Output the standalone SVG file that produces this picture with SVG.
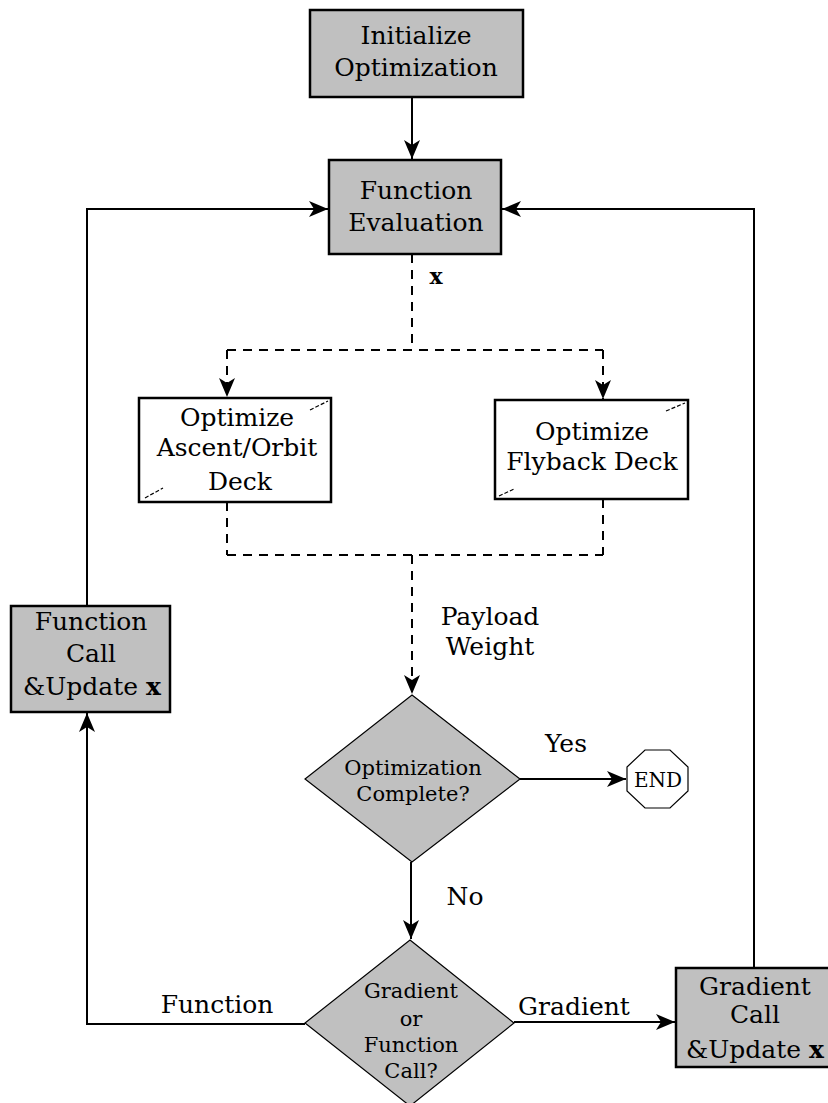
<svg xmlns="http://www.w3.org/2000/svg" width="828" height="1103" viewBox="0 0 828 1103">
<style>
  text { font-family: "DejaVu Serif", "Liberation Serif", serif; fill: #000; text-anchor: middle; }
  .big { font-size: 25px; }
  .mid { font-size: 21px; }
  .box { fill: #c0c0c0; stroke: #000; stroke-width: 2.5; }
  .wbox { fill: #fff; stroke: #000; stroke-width: 2.5; }
  .dia { fill: #c0c0c0; stroke: #000; stroke-width: 1.2; }
  .ln { fill: none; stroke: #000; stroke-width: 2; }
  .dl { fill: none; stroke: #000; stroke-width: 2; stroke-dasharray: 9,7; }
  .tick { fill: none; stroke: #000; stroke-width: 1.2; stroke-dasharray: 4,2; }
  .b { font-weight: bold; }
</style>
<defs>
  <marker id="ah" markerUnits="userSpaceOnUse" markerWidth="22" markerHeight="20" refX="19" refY="10" orient="auto">
    <path d="M0,2 L19,10 L0,18 L5,10 z" fill="#000"/>
  </marker>
</defs>
<rect width="828" height="1103" fill="#fff"/>

<g id="connectors">
  <line class="ln" x1="412" y1="97" x2="412" y2="159" marker-end="url(#ah)"/>
  <polyline class="ln" points="87,606 87,209 328,209" marker-end="url(#ah)"/>
  <polyline class="ln" points="754,968 754,209 502,209" marker-end="url(#ah)"/>
  <line class="dl" x1="412" y1="254" x2="412" y2="350"/>
  <line class="dl" x1="227" y1="350" x2="603" y2="350"/>
  <line class="dl" x1="227" y1="350" x2="227" y2="397" marker-end="url(#ah)"/>
  <line class="dl" x1="603" y1="350" x2="603" y2="399" marker-end="url(#ah)"/>
  <line class="dl" x1="227" y1="502" x2="227" y2="555"/>
  <line class="dl" x1="603" y1="499" x2="603" y2="555"/>
  <line class="dl" x1="227" y1="555" x2="603" y2="555"/>
  <line class="dl" x1="412" y1="555" x2="412" y2="694" marker-end="url(#ah)"/>
  <line class="ln" x1="520" y1="779" x2="626" y2="779" marker-end="url(#ah)"/>
  <line class="ln" x1="411" y1="862" x2="411" y2="939" marker-end="url(#ah)"/>
  <line class="ln" x1="514" y1="1022" x2="675" y2="1022" marker-end="url(#ah)"/>
  <polyline class="ln" points="305,1024 87,1024 87,713" marker-end="url(#ah)"/>
  <text class="b" x="436" y="284" font-size="22">x</text>
  <text class="big" x="490" y="625">Payload</text>
  <text class="big" x="490" y="655">Weight</text>
  <text class="big" x="566" y="752">Yes</text>
  <text class="big" x="465" y="905">No</text>
  <text class="big" x="217" y="1013">Function</text>
  <text class="big" x="574" y="1015">Gradient</text>
</g>

<g id="init">
  <rect class="box" x="310" y="10" width="213" height="87"/>
  <text class="big" x="416" y="44">Initialize</text>
  <text class="big" x="416" y="76">Optimization</text>
</g>

<g id="funceval">
  <rect class="box" x="329" y="160" width="172" height="94"/>
  <text class="big" x="416" y="199">Function</text>
  <text class="big" x="416" y="231">Evaluation</text>
</g>

<g id="ascent">
  <rect class="wbox" x="139" y="398" width="192" height="104"/>
  <text class="big" x="237" y="426">Optimize</text>
  <text class="big" x="237" y="456">Ascent/Orbit</text>
  <text class="big" x="240" y="490">Deck</text>
  <path class="tick" d="M310,410 L328,401"/>
  <path class="tick" d="M145,498 L163,488"/>
</g>

<g id="flyback">
  <rect class="wbox" x="495" y="400" width="193" height="99"/>
  <text class="big" x="592" y="440">Optimize</text>
  <text class="big" x="592" y="470">Flyback Deck</text>
  <path class="tick" d="M666,411 L685,403"/>
  <path class="tick" d="M499,496 L514,489"/>
</g>

<g id="complete">
  <polygon class="dia" points="412,695 520,779 412,862 305,779"/>
  <text class="mid" x="413" y="775">Optimization</text>
  <text class="mid" x="413" y="801">Complete?</text>
</g>

<g id="end">
  <polygon fill="#fff" stroke="#000" stroke-width="1.2" points="645,750 670,750 688,767 688,791 670,808 645,808 627,791 627,767"/>
  <text x="658" y="787" font-size="20">END</text>
</g>

<g id="gradorfunc">
  <polygon class="dia" points="410,940 514,1023 410,1106 305,1023"/>
  <text class="mid" x="411" y="998">Gradient</text>
  <text class="mid" x="411" y="1026">or</text>
  <text class="mid" x="411" y="1052">Function</text>
  <text class="mid" x="411" y="1078">Call?</text>
</g>

<g id="funccall">
  <rect class="box" x="11" y="606" width="159" height="106"/>
  <text class="big" x="91" y="630">Function</text>
  <text class="big" x="91" y="662">Call</text>
  <text class="big" x="92" y="695">&amp;Update <tspan class="b">x</tspan></text>
</g>

<g id="gradcall">
  <rect class="box" x="676" y="968" width="156" height="99"/>
  <text class="big" x="755" y="995">Gradient</text>
  <text class="big" x="755" y="1023">Call</text>
  <text class="big" x="755" y="1058">&amp;Update <tspan class="b">x</tspan></text>
</g>
</svg>
